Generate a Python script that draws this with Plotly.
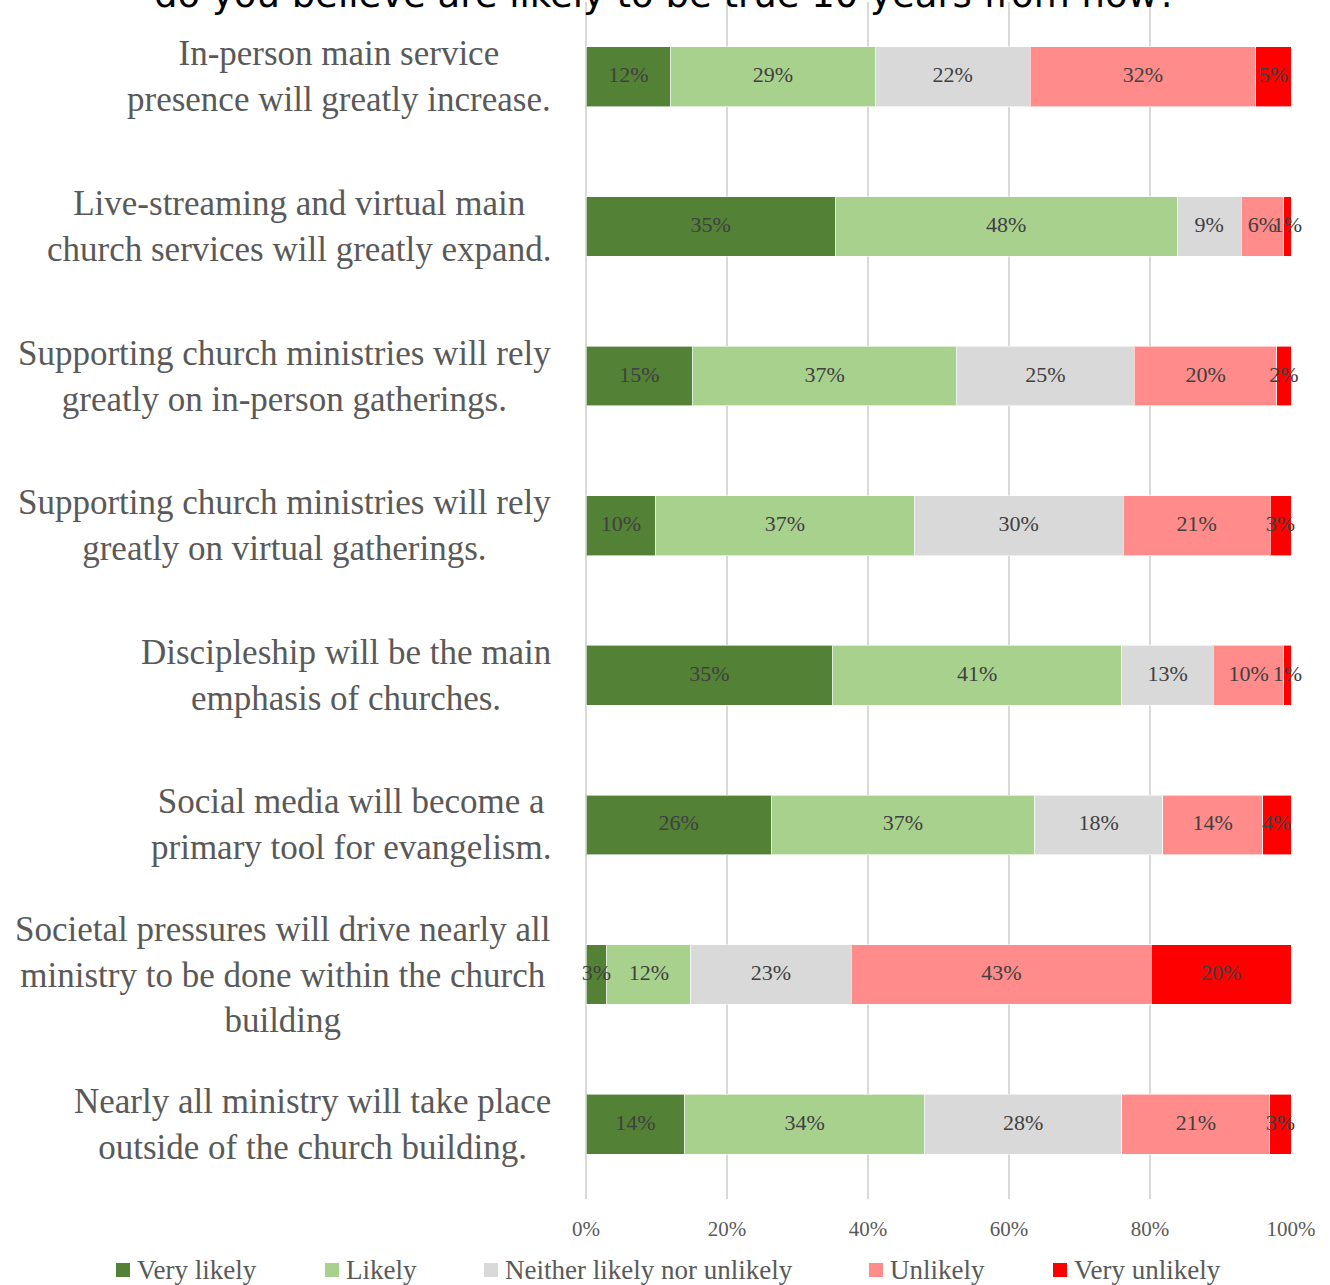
import plotly.graph_objects as go

# Survey statements (top to bottom)
statements = [
    "In-person main service<br>presence will greatly increase.",
    "Live-streaming and virtual main<br>church services will greatly expand.",
    "Supporting church ministries will rely<br>greatly on in-person gatherings.",
    "Supporting church ministries will rely<br>greatly on virtual gatherings.",
    "Discipleship will be the main<br>emphasis of churches.",
    "Social media will become a<br>primary tool for evangelism.",
    "Societal pressures will drive nearly all<br>ministry to be done within the church<br>building",
    "Nearly all ministry will take place<br>outside of the church building.",
]

# Response shares (percent) per statement
very_likely = [12, 35, 15, 10, 35, 26, 3, 14]
likely = [29, 48, 37, 37, 41, 37, 12, 34]
neither = [22, 9, 25, 30, 13, 18, 23, 28]
unlikely = [32, 6, 20, 21, 10, 14, 43, 21]
very_unlikely = [5, 1, 2, 3, 1, 4, 20, 3]

series_names = ["Very likely", "Likely", "Neither likely nor unlikely", "Unlikely", "Very unlikely"]
series_values = [very_likely, likely, neither, unlikely, very_unlikely]
series_colors = ["#538135", "#A9D18E", "#D9D9D9", "#FF8B8B", "#FF0000"]

x_ticks = [0, 20, 40, 60, 80, 100]
x_tick_labels = ["0%", "20%", "40%", "60%", "80%", "100%"]

title_text = "do you believe are likely to be true 10 years from now?"

FONT = "Liberation Serif"
W, H = 1330, 1285
ML, MR, MT, MB = 586, 39, 2, 86
cats = [f"s{i}" for i in range(len(statements))]

# row totals, used to scale each row to a 100% bar
totals = [sum(col) for col in zip(*series_values)]

fig = go.Figure()
label_x, label_y, label_t = [], [], []
running = [0.0] * len(cats)
for name, vals, color in zip(series_names, series_values, series_colors):
    fig.add_trace(go.Bar(
        y=cats,
        x=vals,
        name=name,
        orientation="h",
        marker=dict(color=color, line=dict(color="rgba(255,255,255,0.6)", width=1)),
        textposition="none",
        hoverinfo="skip",
        showlegend=False,
    ))
    for i, v in enumerate(vals):
        share = v * 100.0 / totals[i]
        label_x.append(running[i] + share / 2)
        label_y.append(cats[i])
        label_t.append(f"{v}%")
        running[i] += share

# value labels centred on each segment (allowed to spill over narrow ones)
fig.add_trace(go.Scatter(
    x=label_x, y=label_y, text=label_t, mode="text",
    textposition="middle center",
    textfont=dict(family=FONT, size=22, color="#404040"),
    cliponaxis=False, hoverinfo="skip", showlegend=False,
))

annotations = []
shapes = []

# statement labels, centred line by line, right edge next to the plot
for c, s in zip(cats, statements):
    annotations.append(dict(
        x=-33 / (W - ML - MR), xref="paper", y=c, yref="y",
        text=s, showarrow=False, xanchor="right", yanchor="middle", align="center",
        font=dict(family=FONT, size=35, color="#595959"),
    ))

# chart title (runs off the top edge)
annotations.append(dict(
    x=(665 - ML) / (W - ML - MR), xref="paper", y=1.0, yref="paper",
    xanchor="center", yanchor="bottom",
    text=title_text, showarrow=False, yshift=-16,
    font=dict(family="DejaVu Sans", size=37, color="#000000"),
))

# legend row along the bottom
legend_x = [116, 325, 484, 869, 1053]
plot_w = W - ML - MR
plot_h = H - MT - MB
def px_to_paper_x(px):
    return (px - ML) / plot_w
def px_to_paper_y(py):
    return 1 - (py - MT) / plot_h

for name, color, lx in zip(series_names, series_colors, legend_x):
    shapes.append(dict(
        type="rect", xref="paper", yref="paper",
        x0=px_to_paper_x(lx), x1=px_to_paper_x(lx + 14),
        y0=px_to_paper_y(1277), y1=px_to_paper_y(1263),
        fillcolor=color, line=dict(width=0),
    ))
    annotations.append(dict(
        x=px_to_paper_x(lx + 19), xref="paper", y=px_to_paper_y(1270), yref="paper",
        xanchor="left", yanchor="middle", text=name, showarrow=False,
        font=dict(family=FONT, size=27, color="#595959"),
    ))

fig.update_layout(
    width=W,
    height=H,
    margin=dict(l=ML, r=MR, t=MT, b=MB),
    barmode="stack",
    barnorm="percent",
    bargap=0.6,
    plot_bgcolor="white",
    paper_bgcolor="white",
    font=dict(family=FONT, color="#595959"),
    showlegend=False,
    annotations=annotations,
    shapes=shapes,
)

fig.update_xaxes(
    range=[0, 100],
    tickvals=x_ticks,
    ticktext=x_tick_labels,
    showgrid=True,
    gridcolor="#D9D9D9",
    gridwidth=1.5,
    zeroline=True,
    zerolinecolor="#D9D9D9",
    zerolinewidth=1.5,
    showline=False,
    ticks="",
    ticklabelstandoff=15,
    tickfont=dict(family=FONT, size=21, color="#595959"),
    fixedrange=True,
)
fig.update_yaxes(
    categoryorder="array",
    categoryarray=cats,
    autorange="reversed",
    showticklabels=False,
    showgrid=False,
    ticks="",
    fixedrange=True,
)

fig.write_html("out.html")
